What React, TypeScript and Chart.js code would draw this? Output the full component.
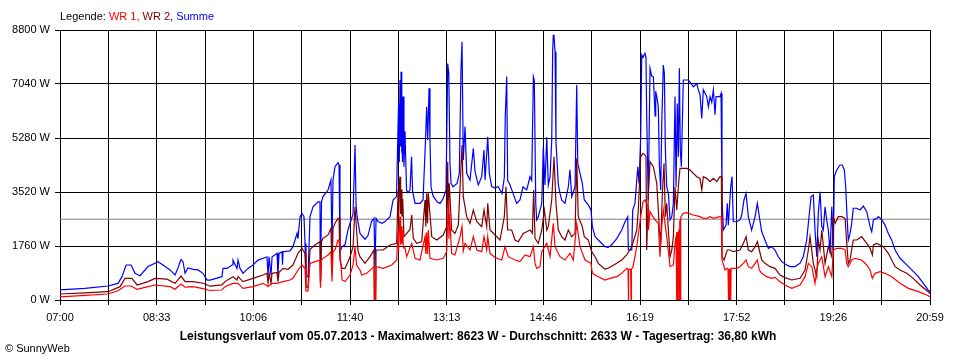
import React, { useEffect, useRef } from 'react';
import { Chart, registerables } from 'chart.js';

Chart.register(...registerables);

// x = minutes after 07:00, y = watts
const xTickLabels = ['07:00', '08:33', '10:06', '11:40', '13:13', '14:46', '16:19', '17:52', '19:26', '20:59'];
const dayMinutes = 839;
const gridDivisions = 18;
const yMax = 8800;
const yStep = 1760;
const averageW = 2633;

const legendParts = [
  { text: 'Legende: ', color: '#000000' },
  { text: 'WR 1, ', color: '#ff0000' },
  { text: 'WR 2, ', color: '#800000' },
  { text: 'Summe', color: '#0000ff' },
];
const footerText = 'Leistungsverlauf vom 05.07.2013 - Maximalwert: 8623 W - Durchschnitt: 2633 W - Tagesertrag: 36,80 kWh';
const copyrightText = '\u00A9 SunnyWeb';

const summe: [number, number][] = [
  [0, 330], [24.1, 380], [46.3, 456], [55.9, 540], [59.8, 760], [63.7, 1140], [68.5, 1140], [72.3, 870], [77.2, 790],
  [84.9, 1090], [91.6, 1200], [94.5, 1250], [99.3, 1140], [106.1, 980], [110.9, 815], [113.8, 1045], [116.7, 1325],
  [118.6, 1250], [120.6, 870], [123.4, 1045], [128.3, 1000], [133.1, 980], [137.9, 870], [141.8, 650],
  [144.7, 650], [156.2, 760], [157.2, 1030], [161.1, 1030], [165.9, 1140], [166.8, 1300], [170.7, 1030], [171.7, 1300],
  [173.6, 1030], [176.5, 870], [181.3, 1030], [186.1, 1140], [191, 1300], [195.8, 1360], [199.6, 1410], [200.6, 800],
  [201.6, 1410], [203.5, 800], [204.5, 1410], [209.3, 1520], [210.2, 800], [211.2, 1520], [214.1, 1575], [214.6, 1150],
  [215.1, 1575], [221.8, 1600], [224.7, 1740], [228.6, 2170], [229.5, 2000], [231.5, 2715], [233.4, 2825], [235.3, 2715],
  [236.3, 1850], [237.2, 760], [239.2, 760], [241.1, 2715], [244, 3040], [248.8, 3200], [250.7, 3200], [251.2, 600],
  [252.2, 3200], [253.6, 3370], [258.5, 3585], [261.3, 3910], [262.3, 1790], [263.3, 3910], [265.2, 4345], [268.1, 4475],
  [269.1, 4400], [270, 1575], [272, 1740], [274.9, 1800], [277.7, 2280], [279.7, 2500], [282.6, 2800], [284.5, 5050],
  [285.5, 3100], [286.5, 2715], [289.3, 2170], [294.1, 1980], [297, 2100], [300.4, 2555], [302.8, 2660], [303.8, 1090],
  [304.8, 2660], [306.7, 2555], [310.5, 2500], [313.4, 2555], [318.3, 2715], [321.2, 3260], [324.5, 3370], [326.5, 6410],
  [327.2, 4500], [327.9, 7170], [328.4, 5000], [328.9, 7440], [329.4, 4800], [329.8, 6000], [330.3, 4500], [330.8, 6630],
  [331.7, 4345], [332.7, 5500], [334.2, 3585], [335.6, 3500], [337.5, 3585], [339, 4670], [340, 3550], [342.4, 3150],
  [347.2, 3150], [350.1, 3260], [352.5, 5215], [353.6, 6300], [354.6, 5215], [355.9, 6900], [356.8, 5215], [357.8, 3690],
  [359.7, 3400], [363.6, 3200], [366.5, 3150], [369.4, 3300], [372.3, 3585], [373.9, 7710], [374.9, 7400], [376.1, 4455],
  [377.1, 3800], [379, 3690], [382.9, 3800], [385.1, 4130], [386.7, 7500], [387.7, 8420], [388.9, 4555], [390.6, 5650],
  [392.2, 4130], [395.4, 3910], [398.6, 4940], [400.2, 4200], [401.9, 3950], [403.4, 3750], [406.7, 4020], [408.9, 4890],
  [409.9, 3910], [412.5, 5320], [414, 4130], [416.3, 3695], [419.5, 3650], [422.4, 3700], [426.3, 3475], [428.5, 4000],
  [429.4, 5975], [430.8, 7280], [431.7, 3900], [434, 3750], [436.9, 3475], [440.4, 3150], [443.6, 3260], [446.5, 3690],
  [450.1, 3585], [453.3, 4020], [454.9, 3900], [456.5, 7280], [457.4, 7170], [458.8, 3150], [459.7, 2610], [461.3, 2720],
  [464.6, 3150], [466.1, 5000], [467.7, 3750], [469.4, 5300], [470.9, 3750], [472.6, 4020], [474.2, 5200], [475.1, 8090],
  [475.7, 8623], [476.4, 8623], [477.4, 8090], [478.3, 5160], [480.6, 3750], [482.2, 3475], [483.8, 3260], [487, 3150],
  [490.2, 3690], [491.8, 4240], [493.5, 3365], [496.7, 3690], [498.3, 7010], [499.3, 4455], [501.5, 4130], [503.7, 3800],
  [505.6, 3260], [509.5, 3100], [512.1, 2930], [513.4, 2390], [516, 2065], [520.8, 1900], [525.6, 1740], [528.8, 1715],
  [532, 1800], [536.9, 2000], [541.7, 2280], [544.9, 2550], [547.5, 2715], [548.1, 1630], [551.4, 1630], [552.3, 2930],
  [554.5, 3150], [557.2, 4345], [558.4, 3800], [560, 5320], [561, 7985], [562.2, 7900], [564.1, 8040], [565.1, 7900],
  [565.8, 6000], [567.3, 3260], [569, 7550], [570.6, 7300], [572.2, 7280], [573.9, 6000], [574.5, 6800], [575.5, 6630],
  [577, 6300], [578, 4400], [579.3, 3585], [580.3, 5700], [581.8, 7660], [582.8, 7400], [583.8, 4900], [585.1, 3690],
  [586.7, 3475], [588.3, 2610], [590, 2720], [591.5, 3150], [593.1, 6630], [594.1, 3690], [595.3, 6400], [596.3, 4670],
  [597.3, 7550], [598.2, 4890], [599.2, 4345], [601.1, 7170], [604.4, 7170], [606, 7170], [607.6, 7100], [610.8, 6950],
  [614.1, 7050], [615.6, 6850], [617.2, 6700], [618.9, 5920], [620.4, 6850], [623.7, 6630], [625.3, 6300], [626.9, 6630],
  [628.5, 6450], [630.1, 6850], [631.7, 6040], [632.7, 6630], [636.5, 6630], [637.5, 6735], [638.4, 3370], [639.7, 2280],
  [642.3, 2440], [643.5, 3150], [644.5, 2440], [646.8, 3690], [648.1, 4020], [649.3, 2550], [652.6, 2550], [655.8, 2610],
  [657.4, 2770], [659.6, 3260], [661.6, 3475], [663.8, 2720], [667, 2280], [670.3, 2720], [672.5, 3150], [674.4, 2720],
  [676.7, 2230], [679.9, 1950], [683.1, 1685], [686.3, 1740], [689.5, 1630], [692.7, 1410], [696, 1250], [700.8, 1140],
  [704, 1090], [708.8, 1090], [713.7, 1200], [716.8, 1410], [720.1, 1950], [721.7, 2500], [724.3, 3370], [726.5, 3420],
  [728.1, 2280], [729.8, 1410], [731.3, 2850], [733, 3530], [734.6, 2390], [736.1, 2280], [737.8, 3040], [739.4, 2600],
  [741, 2280], [742.6, 1520], [744.3, 3040], [745.8, 1630], [746.7, 4020], [749.1, 4240], [752.2, 4400], [754.4, 4400],
  [756.4, 4240], [757.7, 3690], [759, 2720], [760.2, 1950], [761.9, 2170], [763.5, 2500], [765, 2990], [768.3, 2990],
  [771.5, 2935], [774.7, 3060], [778, 2880], [781.2, 2390], [782.8, 2230], [784.4, 2610], [787.7, 2660], [789.2, 2720],
  [792.5, 2610], [795.6, 2440], [798.8, 2170], [802.1, 1950], [805.3, 1630], [810.1, 1360], [814.9, 1200], [821.4, 980],
  [827.8, 760], [832.5, 540], [837.3, 325], [839, 260],
];

const wr2: [number, number][] = [
  [0, 195], [24.1, 230], [46.3, 270], [57.9, 435], [62.7, 705], [69.4, 705], [74.3, 490], [84.9, 600], [91.6, 705],
  [103.2, 680], [110.9, 545], [116.7, 780], [120.6, 600], [128.3, 600], [137.9, 545], [144.7, 450], [156.2, 490],
  [159.1, 600], [166.8, 760], [170.7, 650], [171.7, 760], [176.5, 600], [186.1, 705], [195.8, 815], [199.6, 870],
  [200.6, 550], [201.6, 870], [203.5, 550], [204.5, 870], [209.3, 900], [210.2, 600], [211.2, 900], [215.1, 1030],
  [219.9, 1000], [224.7, 1140], [229.5, 1520], [233.4, 1685], [236.3, 1520], [237.2, 420], [239.2, 420], [241.1, 1650],
  [245.9, 1790], [250.7, 1900], [251.2, 545], [252.2, 1900], [253.6, 2010], [258.5, 2120], [261.3, 2335], [262.3, 900],
  [263.3, 2335], [265.2, 2500], [268.1, 2660], [269.1, 2660], [270, 1300], [272, 1030], [274.9, 1030], [279.7, 1400],
  [282.6, 1738], [284.5, 3042], [286, 2281], [287.4, 1600], [289.3, 1412], [294.1, 1195], [299, 1412], [302.8, 1630],
  [303.2, 0], [304.4, 0], [304.8, 1630], [311.5, 1630], [318.3, 1792], [324.7, 1846], [326, 3585], [326.6, 2600],
  [327.2, 3800], [327.9, 4020], [328.5, 2800], [329.2, 3600], [329.8, 2716], [330.5, 3300], [331.7, 2064], [334.4, 2172],
  [337.5, 2300], [339.2, 2770], [340.7, 2010], [344, 1846], [348.8, 1901], [352, 3259], [352.8, 2400], [353.6, 3476],
  [354.4, 2500], [355.2, 3476], [358.5, 2064], [363.3, 1955], [369.6, 2118], [372.9, 2390], [373.9, 4509], [374.5, 3000],
  [375.4, 3802], [377.7, 2281], [380.9, 2172], [384.1, 2444], [386.7, 4345], [387.7, 5051], [388.9, 3368], [392.2, 2716],
  [395.4, 2498], [398.6, 2933], [401.9, 2552], [406.7, 2390], [408.9, 2933], [411.5, 2390], [412.5, 3150], [414.7, 2281],
  [419.5, 2118], [424.3, 1955], [428.5, 2716], [430.1, 3693], [431.7, 2281], [435.6, 2281], [438.8, 1955], [442, 1901],
  [446.8, 2172], [450.1, 2227], [453.3, 2281], [455.5, 2172], [456.8, 3585], [458.1, 2010], [461.3, 1846], [464.6, 2281],
  [467.1, 2933], [469.4, 2281], [470.9, 2390], [474.2, 3259], [476.4, 4671], [478.3, 3150], [480.6, 2281], [483.8, 2064],
  [487, 1955], [490.2, 2281], [493.5, 2064], [496.7, 2172], [498.3, 4617], [499.8, 2716], [503.7, 2390], [505.6, 2064],
  [509.5, 1955], [512.8, 1575], [516, 1412], [519.1, 1195], [525.6, 1000], [530.4, 1065], [536.9, 1195], [541.7, 1304],
  [546.5, 1467], [551.4, 1738], [556.2, 2281], [557.7, 2933], [560, 4671], [562.2, 4780], [564.1, 4725], [565.1, 4671],
  [565.8, 1630], [567.3, 3368], [569, 4509], [572.2, 4345], [575.5, 3802], [577, 2933], [578, 2281], [579.3, 1846],
  [580.9, 3476], [582.5, 4454], [583.8, 2716], [585.1, 3150], [586.7, 2281], [588.3, 1412], [590, 1630], [591.5, 2064],
  [593.1, 3693], [594.8, 2933], [596.3, 3693], [597.9, 4291], [599.6, 4291], [604.4, 4291], [607.6, 4237], [610.8, 4128],
  [614.1, 4020], [617.2, 3965], [618.9, 3585], [620.4, 4020], [623.7, 3965], [626.9, 3857], [630.1, 3965], [633.4, 3857],
  [636.5, 4020], [637.8, 4020], [638.4, 1412], [640.4, 1304], [643.5, 1630], [646.1, 1630], [649.3, 1575], [655.8, 1630],
  [659, 1846], [661.6, 2064], [663.8, 1630], [667, 1575], [670.3, 1738], [672.5, 1901], [674.4, 1630], [676.7, 1304],
  [679.9, 1195], [684.7, 1086], [689.5, 1032], [694.4, 814], [699.2, 730], [705.7, 652], [713.7, 706], [718.5, 977],
  [721.7, 1629], [723.3, 2064], [726.5, 1195], [729.8, 760], [731.3, 1955], [733, 1629], [734.6, 2281], [737.8, 1195],
  [741, 1738], [744.3, 1412], [745.8, 2716], [747.5, 2498], [750.6, 2716], [753.9, 2716], [757.1, 2661], [758.7, 1846],
  [760.2, 1195], [761.9, 1304], [765, 1955], [768.3, 1955], [773.1, 2064], [778, 1846], [781.2, 1684], [783.4, 1467],
  [784.4, 1792], [787.7, 1846], [790.8, 1792], [794, 1738], [798.8, 1521], [805.3, 1086], [810.1, 977], [816.5, 869],
  [822.9, 706], [829.4, 489], [837.3, 271], [839, 200],
];

const wr1: [number, number][] = [
  [0, 100], [24.1, 150], [46.3, 196], [55.9, 300], [62.7, 456], [68.5, 456], [74.3, 348], [84.9, 434], [91.6, 489],
  [106.1, 434], [110.9, 348], [116.7, 521], [120.6, 420], [128.3, 434], [137.9, 370], [144.7, 310], [156.2, 326],
  [159.1, 434], [166.8, 543], [171.7, 543], [176.5, 380], [186.1, 434], [195.8, 543], [200.6, 450], [204.5, 543],
  [209.3, 543], [215.1, 597], [221.8, 650], [224.7, 706], [229.5, 978], [233.4, 1141], [236.3, 1032], [237.2, 300],
  [239.2, 300], [241.1, 1195], [245.9, 1250], [250.7, 1304], [251.2, 400], [252.2, 1304], [253.6, 1358], [258.5, 1467],
  [261.3, 1575], [262.3, 600], [263.3, 1575], [265.2, 1630], [268.1, 1955], [269.1, 1955], [270, 1575], [272, 652],
  [274.9, 600], [279.7, 815], [282.6, 1141], [284.5, 1738], [286, 1141], [289.3, 978], [290.9, 815], [295.8, 869],
  [302.8, 1086], [303.2, 0], [304.4, 0], [304.8, 1086], [311.8, 1032], [319.9, 1141], [324.7, 1304], [326, 2281],
  [326.6, 1600], [327.2, 2500], [327.9, 2716], [328.5, 1800], [329.2, 2400], [329.8, 1846], [330.5, 2281], [331.1, 1700],
  [332.7, 1700], [334.4, 1412], [339.2, 1846], [342.4, 1358], [347.2, 1304], [352, 2064], [352.8, 1500], [353.6, 2200],
  [354.4, 1500], [355.2, 2281], [356.8, 1358], [363.3, 1304], [369.6, 1358], [372.9, 1575], [374.5, 3259], [375.1, 2000],
  [375.6, 2800], [377.7, 1521], [380.9, 1467], [385.8, 2064], [387.7, 2390], [388.9, 1600], [390.6, 1846], [395.4, 1630],
  [398.6, 2064], [401.9, 1630], [406.7, 1575], [408.9, 2064], [411.5, 1630], [412.5, 2064], [414.7, 1521], [419.5, 1385],
  [426, 1304], [429.2, 1738], [432.3, 1412], [438.8, 1304], [443.6, 1250], [448.4, 1467], [453.3, 1412], [456.5, 1738],
  [458.1, 1195], [459.7, 1032], [462.9, 1086], [464.6, 1575], [469.4, 1846], [472.6, 1412], [475.7, 2499], [477.4, 1738],
  [482.2, 1412], [487, 1304], [491.8, 1521], [495, 1304], [498.3, 2499], [501.5, 1738], [506.3, 1304], [512.1, 1195],
  [513.4, 869], [519.1, 760], [525.6, 652], [530.4, 706], [536.9, 760], [541.7, 869], [546.5, 1032], [547.8, 1000],
  [548.1, 0], [548.5, 1000], [550.3, 1000], [550.7, 0], [551.1, 1000], [552.6, 1086], [556.2, 1738], [560, 2716],
  [562.2, 3205], [564.1, 3259], [567.3, 3042], [567.5, 2281], [569, 2879], [573.9, 2607], [577, 2499], [578.6, 1412],
  [580.3, 2390], [581.8, 2933], [585.1, 2064], [588.3, 1086], [591.5, 1141], [593.1, 1846], [594.2, 2100], [594.5, 0],
  [594.9, 2200], [595.4, 2200], [595.7, 0], [596.1, 2200], [596.7, 2300], [597, 0], [597.4, 2600], [597.9, 2600],
  [598.2, 0], [598.6, 2700], [601.1, 2825], [604.4, 2847], [610.8, 2770], [617.2, 2716], [620.4, 2661], [623.7, 2661],
  [626.9, 2716], [630.1, 2661], [636.5, 2716], [637.8, 2700], [638.4, 1304], [641.3, 978], [643.5, 1032], [644.2, 1000],
  [644.5, 0], [644.9, 1000], [645.2, 1000], [645.5, 0], [645.9, 1000], [646.5, 1000], [646.8, 0], [647.2, 1032],
  [652.6, 1032], [655.8, 1086], [659, 1195], [661.6, 1304], [663.8, 1086], [667, 1032], [670.3, 1195], [672.5, 1304],
  [674.4, 978], [676.7, 869], [681.5, 760], [686.3, 706], [689.5, 739], [694.4, 597], [699.2, 489], [705.7, 380],
  [713.7, 489], [718.5, 760], [721.7, 1195], [725, 1086], [728.1, 543], [729.8, 977], [731.3, 1195], [734.6, 1412],
  [737.8, 760], [741, 1086], [744.3, 760], [745.8, 1630], [749.1, 1684], [753.9, 1684], [757.1, 1630], [758.7, 1195],
  [760.2, 1086], [763.5, 1304], [766.7, 1358], [773.1, 1304], [778, 1141], [781.2, 977], [783.4, 706], [786, 869],
  [790.8, 923], [795.6, 869], [802.1, 760], [810.1, 543], [818.1, 380], [827.8, 271], [835.8, 163], [839, 109],
];

const FONT = '"Liberation Sans", Arial, sans-serif';

const textPlugin = {
  id: 'sunnyTexts',
  afterDraw(chart: any) {
    const ctx = chart.ctx;
    ctx.save();
    ctx.textBaseline = 'middle';
    ctx.textAlign = 'left';
    ctx.font = `11px ${FONT}`;
    let x = 60;
    for (const p of legendParts) {
      ctx.fillStyle = p.color;
      ctx.fillText(p.text, x, 17);
      x += ctx.measureText(p.text).width;
    }
    ctx.font = `bold 12px ${FONT}`;
    ctx.fillStyle = '#000000';
    ctx.textAlign = 'center';
    ctx.fillText(footerText, 478, 337);
    ctx.font = `11px ${FONT}`;
    ctx.textAlign = 'left';
    ctx.fillText(copyrightText, 5, 349);
    ctx.restore();
  },
};

const toPoints = (arr: [number, number][]) => arr.map(([x, y]) => ({ x, y }));

export default function App() {
  const canvasRef = useRef<HTMLCanvasElement | null>(null);

  useEffect(() => {
    document.body.style.margin = '0';
    const canvas = canvasRef.current;
    if (!canvas) return;
    const chart = new Chart(canvas, {
      type: 'line',
      data: {
        datasets: [
          { label: 'WR 1', data: toPoints(wr1), borderColor: '#ff0000', borderWidth: 1.2, pointRadius: 0, tension: 0, fill: false },
          { label: 'WR 2', data: toPoints(wr2), borderColor: '#800000', borderWidth: 1.2, pointRadius: 0, tension: 0, fill: false },
          { label: 'Summe', data: toPoints(summe), borderColor: '#0000ff', borderWidth: 1.2, pointRadius: 0, tension: 0, fill: false },
          {
            label: 'Durchschnitt',
            data: [{ x: 0, y: averageW }, { x: dayMinutes, y: averageW }],
            borderColor: '#808080', borderWidth: 1, pointRadius: 0, tension: 0, fill: false,
          },
        ],
      },
      options: {
        animation: false,
        responsive: false,
        events: [],
        layout: { padding: { top: 30, right: 30, bottom: 30, left: 0 } },
        plugins: { legend: { display: false }, tooltip: { enabled: false }, title: { display: false } },
        scales: {
          x: {
            type: 'linear',
            min: 0,
            max: dayMinutes,
            afterBuildTicks: (scale: any) => {
              scale.ticks = Array.from({ length: gridDivisions + 1 }, (_, i) => ({ value: (i * dayMinutes) / gridDivisions }));
            },
            afterFit: (scale: any) => { scale.height = 30; },
            ticks: {
              autoSkip: false,
              maxRotation: 0,
              minRotation: 0,
              padding: 6,
              color: '#000000',
              font: { family: FONT, size: 11 },
              callback: (_v: any, i: number) => (i % 2 === 0 ? xTickLabels[i / 2] : ''),
            },
            grid: { color: '#000000', lineWidth: 1, tickLength: 5, drawTicks: true },
            border: { display: true, color: '#000000', width: 1 },
          },
          y: {
            type: 'linear',
            min: 0,
            max: yMax,
            afterBuildTicks: (scale: any) => {
              scale.ticks = Array.from({ length: yMax / yStep + 1 }, (_, i) => ({ value: i * yStep }));
            },
            afterFit: (scale: any) => { scale.width = 60; },
            ticks: {
              padding: 5,
              color: '#000000',
              font: { family: FONT, size: 11 },
              callback: (v: any) => `${v} W`,
            },
            grid: { color: '#000000', lineWidth: 1, tickLength: 5, drawTicks: true },
            border: { display: true, color: '#000000', width: 1 },
          },
        },
      },
      plugins: [textPlugin],
    });
    return () => chart.destroy();
  }, []);

  return (
    <div style={{ width: 960, height: 360, background: '#ffffff' }}>
      <canvas ref={canvasRef} width={960} height={360} style={{ display: 'block' }} />
    </div>
  );
}
